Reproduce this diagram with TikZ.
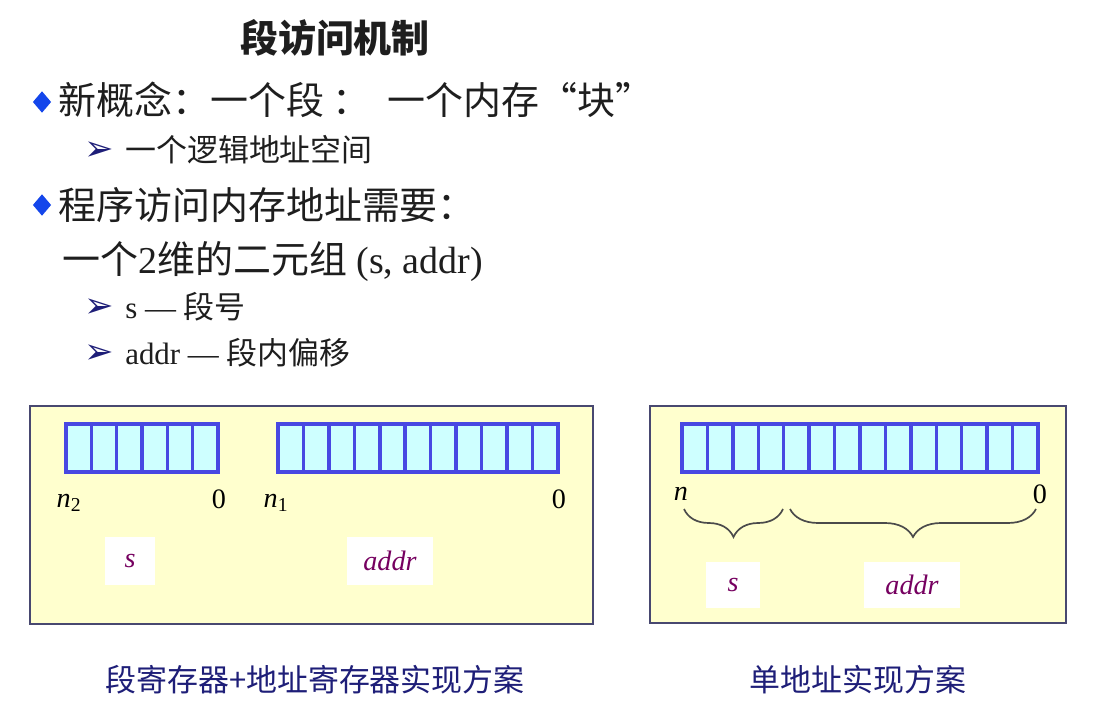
\documentclass[tikz,border=0pt]{standalone}
\usepackage{fontspec}
\setmainfont{Liberation Serif}
\newfontfamily\cjk{Noto Sans CJK SC}
\newfontfamily\symfont{DejaVu Sans}
\usetikzlibrary{decorations.pathreplacing,shapes.geometric,positioning}
\definecolor{paneyellow}{RGB}{255,255,206}
\definecolor{paneline}{RGB}{72,72,112}
\definecolor{cellcyan}{RGB}{206,255,255}
\definecolor{cellline}{RGB}{72,72,226}
\definecolor{fieldpurple}{RGB}{118,0,96}
\definecolor{capnavy}{RGB}{30,30,120}
\definecolor{bulletblue}{RGB}{20,70,235}
\definecolor{bodytext}{RGB}{30,30,30}

\begin{document}
\begin{tikzpicture}[x=0.025cm,y=-0.025cm,
  pane/.style={draw=paneline,fill=paneyellow,line width=1.2pt},
  cell/.style={draw=cellline,fill=cellcyan,line width=2.5pt,minimum width=0.635cm,
    minimum height=1.2cm,inner sep=0pt,outer sep=0pt,anchor=north west},
  bitlbl/.style={font=\fontsize{20}{22}\selectfont,inner sep=0pt},
  field/.style={fill=white,text=fieldpurple,font=\fontsize{20}{24}\selectfont\itshape,
    minimum height=1.18cm,inner sep=0pt},
  bulletd/.style={diamond,fill=bulletblue,minimum width=0.46cm,minimum height=0.54cm,inner sep=0pt},
  subarrow/.style={text=capnavy,font=\symfont\fontsize{25}{28}\selectfont,inner sep=0pt},
  bigline/.style={anchor=west,text=bodytext,font=\fontsize{27}{30}\selectfont,inner sep=0pt},
  smallline/.style={anchor=west,text=bodytext,font=\fontsize{22}{26}\selectfont,inner sep=0pt},
  caption/.style={text=capnavy,font=\cjk\fontsize{22}{26}\selectfont,inner sep=0pt},
  bracedn/.style={decorate,decoration={brace,mirror,amplitude=0.7cm},draw=bodytext!80,line width=1.2pt}]
  \fill[white] (0,0) rectangle (1107,720);
  \useasboundingbox (0,0) rectangle (1107,720);

  % title and text lines
  \node[font=\cjk\bfseries\fontsize{27}{30}\selectfont,text=bodytext] (title) at (335,38) {段访问机制};
  \node[bulletd] (d1) at (42,102) {};
  \node[bigline] (l1) at (58,100) {\cjk 新概念：一个段\ ：\ \ 一个内存“块”};
  \node[subarrow] (a1) at (99,151) {➢};
  \node[smallline] (l2) at (125,150) {\cjk 一个逻辑地址空间};
  \node[bulletd] (d2) at (42,205) {};
  \node[bigline] (l3) at (58,205) {\cjk 程序访问内存地址需要：};
  \node[bigline] (l4) at (62,262) {{\cjk 一个}2{\cjk 维的二元组} (s, addr)};
  \node[subarrow] (a2) at (99,308) {➢};
  \node[smallline] (l5) at (125,307) {s — {\cjk 段号}};
  \node[subarrow] (a3) at (99,354) {➢};
  \node[smallline] (l6) at (125,353) {addr — {\cjk 段内偏移}};

  % left scheme: two registers
  \draw[pane] (30,406) rectangle (593,624);
  \foreach \i in {1,...,6}
    \node[cell] (sr\i) at ({66+(\i-1)*25.33},424) {};
  \foreach \i in {1,...,11}
    \node[cell] (ar\i) at ({278+(\i-1)*25.45},424) {};
  \node[bitlbl] (n2) at (69,503) {\textit{n}\textsubscript{2}};
  \node[bitlbl] (z2) at (219,499) {0};
  \node[bitlbl] (n1) at (276,503) {\textit{n}\textsubscript{1}};
  \node[bitlbl] (z1) at (559,499) {0};
  \node[field,minimum width=1.25cm] (sf1) at (130,561) {s};
  \node[field,minimum width=2.13cm] (af1) at (390,561) {addr};
  \node[caption] (cap1) at (315,680) {段寄存器+地址寄存器实现方案};

  % right scheme: single address
  \draw[pane] (650,406) rectangle (1066,623);
  \foreach \i in {1,...,14}
    \node[cell] (ur\i) at ({682+(\i-1)*25.43},424) {};
  \node[bitlbl] (nn) at (681,494) {\textit{n}};
  \node[bitlbl] (z0) at (1040,494) {0};
  \coordinate (sb1) at (684,509);
  \coordinate (sb2) at (783,509);
  \coordinate (ab1) at (790,509);
  \coordinate (ab2) at (1036,509);
  \draw[bracedn] (sb1) -- (sb2);
  \draw[bracedn] (ab1) -- (ab2);
  \node[field,minimum width=1.35cm,minimum height=1.13cm] (sf2) at (733,585) {s};
  \node[field,minimum width=2.38cm,minimum height=1.13cm] (af2) at (912,585) {addr};
  \node[caption] (cap2) at (858,680) {单地址实现方案};
\end{tikzpicture}
\end{document}
